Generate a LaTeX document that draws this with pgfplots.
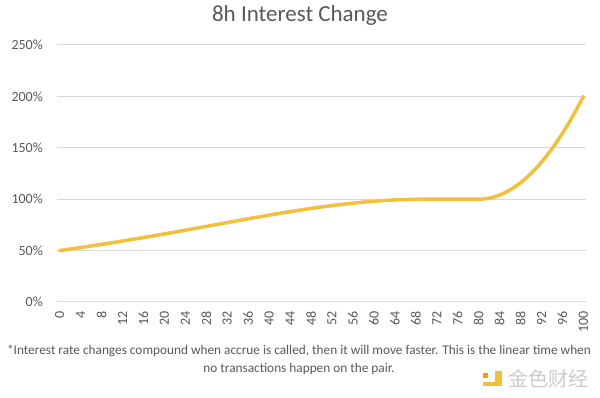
\documentclass[border=0pt]{standalone}
\usepackage{pgfplots}
\pgfplotsset{compat=1.18}
\usepackage{pgfplotstable}
\usepackage{fontspec}
\setmainfont{Carlito}
\newfontfamily\cjk{Noto Sans CJK SC}
\definecolor{txt}{RGB}{89,89,89}
\definecolor{gridc}{RGB}{217,217,217}
\definecolor{gold}{RGB}{242,192,60}
\pgfplotstableread{
x y
0 50.00
1 50.72
2 51.45
3 52.19
4 52.94
5 53.70
6 54.47
7 55.25
8 56.04
9 56.84
10 57.65
11 58.47
12 59.29
13 60.13
14 60.98
15 61.83
16 62.69
17 63.56
18 64.44
19 65.32
20 66.22
21 67.11
22 68.02
23 68.93
24 69.84
25 70.76
26 71.68
27 72.60
28 73.53
29 74.46
30 75.38
31 76.31
32 77.24
33 78.16
34 79.08
35 80.00
36 80.91
37 81.82
38 82.71
39 83.60
40 84.48
41 85.35
42 86.21
43 87.05
44 87.88
45 88.69
46 89.48
47 90.26
48 91.01
49 91.74
50 92.45
51 93.14
52 93.80
53 94.43
54 95.03
55 95.61
56 96.15
57 96.67
58 97.15
59 97.59
60 98.00
61 98.37
62 98.71
63 99.01
64 99.27
65 99.49
66 99.67
67 99.82
68 99.92
69 99.98
70 100
71 100
72 100
73 100
74 100
75 100
76 100
77 100
78 100
79 100
80 100
81 100.25
82 101.00
83 102.25
84 104.00
85 106.25
86 109.00
87 112.25
88 116.00
89 120.25
90 125.00
91 130.25
92 136.00
93 142.25
94 149.00
95 156.25
96 164.00
97 172.25
98 181.00
99 190.25
100 200.00
}\rates
\begin{document}
\begin{tikzpicture}[x=1pt,y=1pt]
\useasboundingbox[fill=white] (0,0) rectangle (600,398);
\begin{axis}[
  at={(57pt,96pt)}, anchor=south west,
  scale only axis, width=529pt, height=257pt,
  xmin=-0.5, xmax=100.5, ymin=0, ymax=250,
  axis line style={draw=none},
  major tick length=0pt,
  ymajorgrids, grid style={gridc, line width=1pt},
  ytick={0,50,...,250},
  xtick={0,4,...,100},
  yticklabel={\pgfmathprintnumber{\tick}\%},
  /pgf/number format/assume math mode=true,
  /pgf/number format/fixed, /pgf/number format/precision=0,
  ticklabel style={font=\fontsize{14}{16}\selectfont, text=txt},
  yticklabel style={anchor=east, inner sep=0pt, xshift=-14pt},
  xticklabel style={yshift=-9pt, rotate=90, anchor=east, inner sep=0pt, font=\fontsize{14}{16}\selectfont},
]
\addplot[gold, line width=3.5pt, line join=round, line cap=round] table[x=x, y=y] {\rates};
\end{axis}
\node[anchor=base, text=txt, font=\fontsize{23}{26}\selectfont] at (300,376) {8h Interest Change};
\node[anchor=base, text=txt, font=\fontsize{13.3}{15}\selectfont] at (299,43) {*Interest rate changes compound when accrue is called, then it will move faster. This is the linear time when};
\node[anchor=base, text=txt, font=\fontsize{13.3}{15}\selectfont] at (299,25) {no transactions happen on the pair.};
\fill[orange!80!yellow] (483,20) rectangle (488,25);
\fill[gold] (495,12) rectangle (502,27);
\fill[gold] (483,12) rectangle (502,16);
\node[anchor=west, text=gray!40, font=\cjk\fontsize{20}{22}\selectfont, inner sep=0pt] at (508,19) {金色财经};
\end{tikzpicture}
\end{document}
